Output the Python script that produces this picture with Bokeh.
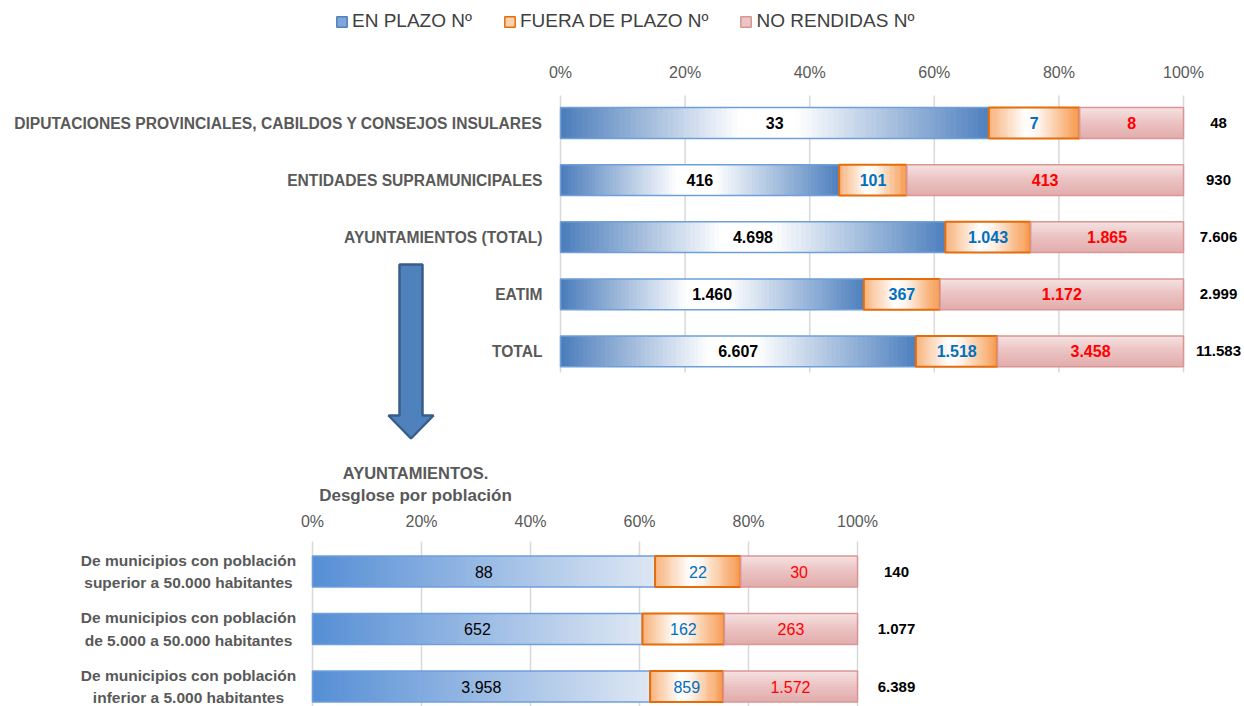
from bokeh.plotting import figure
from bokeh.models import Range1d, ColumnDataSource, Legend, LegendItem
from bokeh.embed import file_html
from bokeh.resources import INLINE
from bokeh.core.properties import value

FONT = "'Liberation Sans', Arial, sans-serif"

# ---------------- data ----------------
series_names = ["EN PLAZO Nº", "FUERA DE PLAZO Nº", "NO RENDIDAS Nº"]

top_categories = ["DIPUTACIONES PROVINCIALES, CABILDOS Y CONSEJOS INSULARES",
                  "ENTIDADES SUPRAMUNICIPALES",
                  "AYUNTAMIENTOS (TOTAL)",
                  "EATIM",
                  "TOTAL"]
top_en_plazo = [33, 416, 4698, 1460, 6607]
top_fuera_plazo = [7, 101, 1043, 367, 1518]
top_no_rendidas = [8, 413, 1865, 1172, 3458]

bottom_title = ["AYUNTAMIENTOS.", "Desglose por población"]
bottom_categories = ["De municipios con población\nsuperior a 50.000 habitantes",
                     "De municipios con población\nde 5.000 a 50.000 habitantes",
                     "De municipios con población\ninferior a 5.000 habitantes"]
bottom_en_plazo = [88, 652, 3958]
bottom_fuera_plazo = [22, 162, 859]
bottom_no_rendidas = [30, 263, 1572]

pct_ticks = [0, 0.2, 0.4, 0.6, 0.8, 1.0]
pct_labels = ["0%", "20%", "40%", "60%", "80%", "100%"]

# ---------------- layout constants (page pixels) ----------------
W, H = 1244, 706
PAGE_L, PAGE_T = 0, 0
TOP_X0, TOP_XW = 560, 623        # 0% and width of 100% (top chart)
TOP_Y0, TOP_YS = 122.5, 57.1     # first bar centre, bar spacing (top chart)
BOT_X0, BOT_XW = 312, 545
BOT_Y0, BOT_YS = 571, 57.5

GRAY = "#595959"
BLUE_TOP_STOPS = [(0.0, (74, 124, 187)), (0.42, (255, 255, 255)), (0.55, (255, 255, 255)), (1.0, (78, 128, 190))]
BLUE_BOT_STOPS = [(0.0, (85, 142, 213)), (1.0, (222, 231, 243))]
ORANGE_STOPS = [(0.0, (248, 178, 122)), (0.4, (255, 255, 255)), (0.55, (254, 244, 236)), (1.0, (246, 150, 72))]
PINK_STOPS = [(0.0, (246, 226, 226)), (0.45, (236, 196, 196)), (1.0, (226, 172, 172))]


def fmt(v):
    return f"{v:,}".replace(",", ".")


def grad_color(stops, t):
    for (t0, c0), (t1, c1) in zip(stops[:-1], stops[1:]):
        if t <= t1:
            f = 0 if t1 == t0 else (t - t0) / (t1 - t0)
            f = max(0.0, min(1.0, f))
            c = [round(a + (b - a) * f) for a, b in zip(c0, c1)]
            return "#%02x%02x%02x" % tuple(c)
    return "#%02x%02x%02x" % stops[-1][1]


def gradient_source(starts, widths, ys, h, stops, n, horizontal=True):
    L, R, B, T, C = [], [], [], [], []
    for s, w, y in zip(starts, widths, ys):
        if horizontal:
            step = w / n
            for k in range(n):
                t = (k + 0.5) / n
                L.append(s + k * step)
                R.append(min(s + (k + 1.5) * step, s + w))
                B.append(y + h / 2)
                T.append(y - h / 2)
                C.append(grad_color(stops, t))
        else:
            step = h / n
            for k in range(n):
                t = (k + 0.5) / n
                L.append(s)
                R.append(s + w)
                T.append(y - h / 2 + k * step)
                B.append(min(y - h / 2 + (k + 1.5) * step, y + h / 2))
                C.append(grad_color(stops, t))
    return ColumnDataSource(dict(left=L, right=R, bottom=B, top=T, color=C))


def draw_stacked(p, en, fu, no, blue_stops, blue_line, h, value_style, total_offset, rng):
    kw = {} if rng is None else dict(x_range_name=rng, y_range_name=rng)
    ys = list(range(len(en)))
    totals = [a + b + c for a, b, c in zip(en, fu, no)]
    f_en = [a / t for a, t in zip(en, totals)]
    f_fu = [b / t for b, t in zip(fu, totals)]
    f_no = [c / t for c, t in zip(no, totals)]
    s_en = [0.0] * len(en)
    s_fu = f_en
    s_no = [a + b for a, b in zip(f_en, f_fu)]

    segs = [
        (s_en, f_en, blue_stops, True, blue_line, 1.5),
        (s_fu, f_fu, ORANGE_STOPS, True, "#e46c0a", 2),
        (s_no, f_no, PINK_STOPS, False, "#d99694", 1.5),
    ]
    for starts, widths, stops, horiz, lc, lw in segs:
        src = gradient_source(starts, widths, ys, h, stops, 80 if horiz else 12, horiz)
        p.quad(left="left", right="right", top="top", bottom="bottom", source=src,
               fill_color="color", line_color=None, **kw)
        p.quad(left=starts, right=[a + b for a, b in zip(starts, widths)],
               top=[y - h / 2 for y in ys], bottom=[y + h / 2 for y in ys],
               fill_color=None, line_color=lc, line_width=lw, **kw)

    for starts, widths, vals, col in [(s_en, f_en, en, "#000000"),
                                      (s_fu, f_fu, fu, "#0070c0"),
                                      (s_no, f_no, no, "#ff0000")]:
        p.text(x=[a + b / 2 for a, b in zip(starts, widths)], y=ys, text=[fmt(v) for v in vals],
               text_align="center", text_baseline="middle", text_font=value(FONT),
               text_font_size="16px", text_font_style=value_style, text_color=col, **kw)
    p.text(x=[1.0] * len(ys), y=ys, text=[fmt(t) for t in totals], x_offset=total_offset,
           text_align="center", text_baseline="middle", text_font=value(FONT),
           text_font_size="15px", text_font_style="bold", text_color="#000000", **kw)


def draw_pct_axis(p, grid_top, grid_bottom, label_gap, rng):
    kw = {} if rng is None else dict(x_range_name=rng, y_range_name=rng)
    n = len(pct_ticks)
    p.segment(x0=pct_ticks, x1=pct_ticks, y0=[grid_top] * n, y1=[grid_bottom] * n,
              line_color="#d9d9d9", line_width=1.5, level="underlay", **kw)
    p.text(x=pct_ticks, y=[grid_top] * n, text=pct_labels, y_offset=-label_gap,
           text_align="center", text_baseline="middle", text_font=value(FONT),
           text_font_size="16px", text_color=GRAY, **kw)


# data <-> page pixel helpers for the two panels
def top_x(px):
    return (px - TOP_X0) / TOP_XW


def top_y(py):
    return (py - TOP_Y0) / TOP_YS


def bot_x(px):
    return (px - BOT_X0) / BOT_XW


def bot_y(py):
    return (py - BOT_Y0) / BOT_YS


p = figure(width=W, height=H,
           x_range=Range1d(top_x(PAGE_L), top_x(PAGE_L + W)),
           y_range=Range1d(top_y(PAGE_T + H), top_y(PAGE_T)),
           x_axis_location=None, y_axis_location=None, output_backend="svg", toolbar_location=None,
           min_border_left=0, min_border_right=0, min_border_top=0, min_border_bottom=0,
           title_location=None)
p.extra_x_ranges = {"bot": Range1d(bot_x(PAGE_L), bot_x(PAGE_L + W))}
p.extra_y_ranges = {"bot": Range1d(bot_y(PAGE_T + H), bot_y(PAGE_T))}
p.outline_line_color = None
p.xgrid.grid_line_color = None
p.ygrid.grid_line_color = None

# ---------------- top chart ----------------
n_top = len(top_categories)
draw_pct_axis(p, top_y(95), n_top - 1 + 0.37, 23, None)
draw_stacked(p, top_en_plazo, top_fuera_plazo, top_no_rendidas, BLUE_TOP_STOPS, "#6f9fd8",
             0.54, "bold", 35, None)
p.text(x=[0] * n_top, y=list(range(n_top)), text=top_categories, x_offset=-18,
       text_align="right", text_baseline="middle", text_font=value(FONT), text_font_size="15.6px",
       text_font_style="bold", text_color=GRAY)

# arrow pointing to the breakdown
arrow_px = [399, 422, 422, 433, 410.5, 388, 399]
arrow_py = [264, 264, 415, 415, 438, 415, 415]
p.patch(x=[top_x(v) for v in arrow_px], y=[top_y(v) for v in arrow_py], fill_color="#4f81bd",
        line_color="#385d8a", line_width=2.5)

# ---------------- bottom chart ----------------
n_bot = len(bottom_categories)
draw_pct_axis(p, bot_y(541), bot_y(PAGE_T + H), 20, "bot")
draw_stacked(p, bottom_en_plazo, bottom_fuera_plazo, bottom_no_rendidas, BLUE_BOT_STOPS, "#6d9ee0",
             0.54, "normal", 39, "bot")
# two-line category labels, lines centred on each other, block ending 17px left of the axis
p.text(x=[0] * n_bot, y=list(range(n_bot)), text=bottom_categories, x_offset=-124,
       text_align="center", text_baseline="middle", text_font=value(FONT), text_font_size="15.5px",
       text_font_style="bold", text_color=GRAY, text_line_height=1.3,
       x_range_name="bot", y_range_name="bot")
p.text(x=[bot_x(415)] * 2, y=[bot_y(472), bot_y(495)], text=bottom_title, text_align="center",
       text_baseline="middle", text_font=value(FONT), text_font_size=["16.5px", "17px"],
       text_font_style="bold", text_color=GRAY, x_range_name="bot", y_range_name="bot")

# ---------------- legend ----------------
nan = float("nan")
r_blue = p.quad(left=[nan], right=[nan], top=[nan], bottom=[nan], fill_color="#7ea6d8",
                line_color="#4f81bd", line_width=1.5)
r_orange = p.quad(left=[nan], right=[nan], top=[nan], bottom=[nan], fill_color="#fbd0ad",
                  line_color="#e46c0a", line_width=1.5)
r_pink = p.quad(left=[nan], right=[nan], top=[nan], bottom=[nan], fill_color="#ecc6c6",
                line_color="#d99694", line_width=1.5)
legend = Legend(items=[LegendItem(label=series_names[0], renderers=[r_blue]),
                       LegendItem(label=series_names[1], renderers=[r_orange]),
                       LegendItem(label=series_names[2], renderers=[r_pink])],
                orientation="horizontal", location=(335 - PAGE_L, PAGE_T + H - 32),
                border_line_color=None, background_fill_alpha=0, padding=0, margin=0, spacing=31,
                glyph_width=13, glyph_height=13, label_standoff=4, label_height=20,
                label_text_font=FONT, label_text_font_size="19px", label_text_color="#404040")
p.add_layout(legend)

open("out.html", "w").write(file_html(p, INLINE))
